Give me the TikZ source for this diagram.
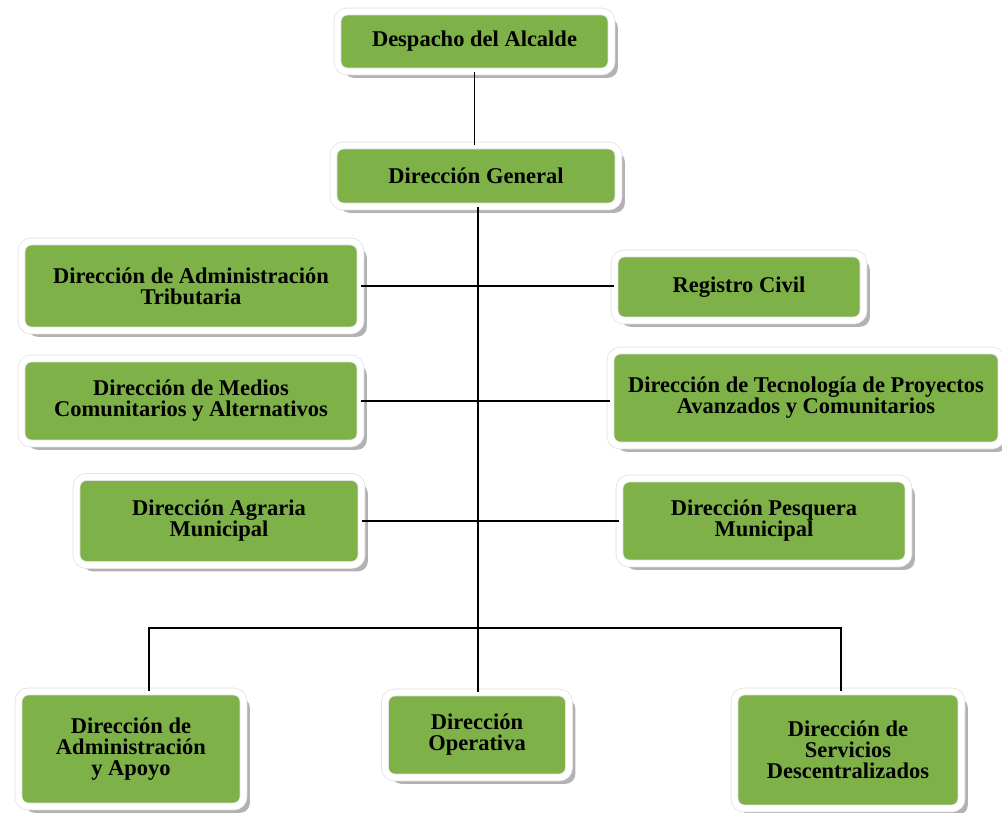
\documentclass[tikz,border=0pt]{standalone}
\usepackage{fontspec}
\setmainfont{Liberation Serif}
\usetikzlibrary{positioning,shadows}
\definecolor{boxgreen}{RGB}{126,178,72}
\newcommand{\px}{0.025cm}
\tikzset{
    unidad/.style={rectangle, rounded corners=7pt, fill=boxgreen,
        draw=gray!25, double=white, double distance=4.5pt, line width=0.5pt,
        drop shadow={shadow xshift=4.5pt, shadow yshift=-4.5pt, fill=gray!60, opacity=1},
        align=center, inner sep=2pt,
        font=\fontsize{16}{15}\selectfont\bfseries},
    enlace/.style={draw=black, line width=1.3pt}
}
\begin{document}
\begin{tikzpicture}[x=\px, y=-\px]
\useasboundingbox (0,0) rectangle (1002,813);

% jefatura
\node[unidad, minimum width=274*\px, minimum height=60*\px] (despacho) at (474.5,41.5) {Despacho del Alcalde};
\node[unidad, minimum width=285*\px, minimum height=61*\px] (general) at (476,176) {Dirección General};

% direcciones de linea
\node[unidad, minimum width=339*\px, minimum height=89*\px] (tributaria) at (191,286) {Dirección de Administración\\Tributaria};
\node[unidad, minimum width=249*\px, minimum height=67*\px] (registro) at (739,287) {Registro Civil};
\node[unidad, minimum width=339*\px, minimum height=85*\px] (medios) at (191,401) {Dirección de Medios\\Comunitarios y Alternativos};
\node[unidad, minimum width=391*\px, minimum height=95*\px] (tecnologia) at (806,398) {Dirección de Tecnología de Proyectos\\Avanzados y Comunitarios};
\node[unidad, minimum width=285*\px, minimum height=88*\px] (agraria) at (219,521) {Dirección Agraria\\Municipal};
\node[unidad, minimum width=289*\px, minimum height=85*\px] (pesquera) at (764,521) {Dirección Pesquera\\Municipal};

% direcciones de base
\node[unidad, minimum width=225*\px, minimum height=115*\px] (apoyo) at (131,749) {Dirección de\\Administración\\y Apoyo};
\node[unidad, minimum width=184*\px, minimum height=85*\px] (operativa) at (477,735) {Dirección\\Operativa};
\node[unidad, minimum width=227*\px, minimum height=117*\px] (servicios) at (848,750) {Dirección de\\Servicios\\Descentralizados};

\coordinate (tronco) at (478,628);
\coordinate (busizq) at (149,628);
\coordinate (busder) at (841,628);

\draw[enlace] (despacho.south) -- (despacho.south |- general.north);
\draw[enlace] (tronco |- general.south) -- (tronco |- operativa.north);
\draw[enlace] (tributaria.east) -- (tributaria.east -| registro.west);
\draw[enlace] (medios.east) -- (medios.east -| tecnologia.west);
\draw[enlace] (agraria.east) -- (agraria.east -| pesquera.west);
\draw[enlace] (busizq |- apoyo.north) -- (busizq) -- (busder) -- (busder |- servicios.north);

\end{tikzpicture}
\end{document}
